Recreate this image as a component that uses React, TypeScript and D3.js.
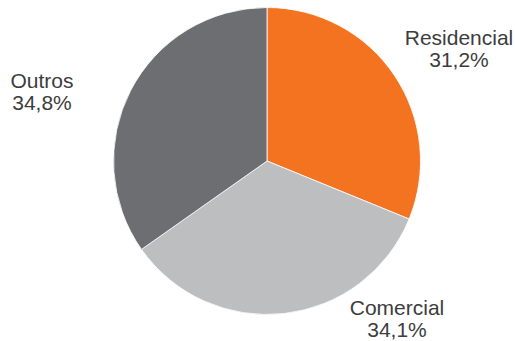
import React from "react";
import * as d3 from "d3";

const categories = ["Residencial", "Comercial", "Outros"];
const values = [31.2, 34.1, 34.8];
const valueLabels = ["31,2%", "34,1%", "34,8%"];
const colors = ["#F37321", "#BCBEC0", "#6D6E71"];

// label layout (centre x, first baseline y)
const labelLayout = [
  { x: 459, y: 45 },
  { x: 397, y: 315 },
  { x: 42, y: 87.5 },
];

const W = 515;
const H = 341;
const CX = 267;
const CY = 161;
const R = 153.5;

export default function App() {
  const pie = d3.pie<number>().sort(null).value((d) => d);
  const arcs = pie(values);
  const arc = d3.arc<d3.PieArcDatum<number>>().innerRadius(0).outerRadius(R);
  return (
    <svg
      width={W}
      height={H}
      style={{ position: "absolute", left: 0, top: 0, background: "#fff" }}
    >
      <g transform={`translate(${CX},${CY})`}>
        {arcs.map((a, i) => (
          <path key={i} d={arc(a) || ""} fill={colors[i]} stroke="#fff" strokeWidth={0.8} />
        ))}
      </g>
      {categories.map((c, i) => (
        <text
          key={c}
          x={labelLayout[i].x}
          y={labelLayout[i].y}
          textAnchor="middle"
          fontFamily="'Liberation Sans', Arial, sans-serif"
          fontSize={21}
          fill="#3d3d3d"
        >
          <tspan x={labelLayout[i].x}>{c}</tspan>
          <tspan x={labelLayout[i].x} dy={22}>
            {valueLabels[i]}
          </tspan>
        </text>
      ))}
    </svg>
  );
}
